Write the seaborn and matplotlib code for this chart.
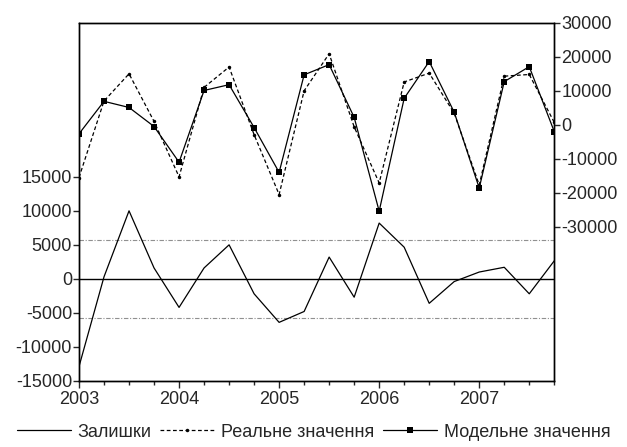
import numpy as np
import pandas as pd
import matplotlib
matplotlib.use('Agg')
import matplotlib.pyplot as plt
import seaborn as sns

# quarterly periods 2003Q1 - 2007Q4
periods = ['2003Q1', '2003Q2', '2003Q3', '2003Q4',
           '2004Q1', '2004Q2', '2004Q3', '2004Q4',
           '2005Q1', '2005Q2', '2005Q3', '2005Q4',
           '2006Q1', '2006Q2', '2006Q3', '2006Q4',
           '2007Q1', '2007Q2', '2007Q3', '2007Q4']

residual = [-12900, 300, 10000, 1600,
            -4200, 1600, 5000, -2200,
            -6400, -4800, 3200, -2700,
            8200, 4650, -3600, -400,
            1000, 1700, -2200, 2650]

actual = [-15500, 7000, 15000, 1000,
          -15300, 11000, 17000, -2900,
          -20500, 10000, 20900, -600,
          -17100, 12600, 15200, 3400,
          -17700, 14300, 14800, 700]

fitted = [-2650, 6900, 5100, -500,
          -11000, 10100, 11800, -800,
          -14000, 14700, 17700, 2200,
          -25400, 7800, 18600, 3700,
          -18600, 12700, 17100, -2000]

resid_band = 5750
left_ticks = [-15000, -10000, -5000, 0, 5000, 10000, 15000]
right_ticks = [-30000, -20000, -10000, 0, 10000, 20000, 30000]
year_ticks = [2003, 2004, 2005, 2006, 2007]

labels = ['Залишки', 'Реальне значення', 'Модельне значення']

# build data frame with numeric time axis
df = pd.DataFrame({'period': periods, 'residual': residual,
                   'actual': actual, 'fitted': fitted})
df['t'] = df['period'].str[:4].astype(int) + (df['period'].str[-1].astype(int) - 1) / 4

sns.set_style('white')
plt.rcParams['font.family'] = ['Liberation Sans', 'DejaVu Sans']
plt.rcParams['font.size'] = 13
plt.rcParams['axes.unicode_minus'] = False

fig = plt.figure(figsize=(6.27, 4.47), dpi=100)
ax = fig.add_axes([0.126, 0.148, 0.758, 0.801])
ax2 = ax.twinx()

# residuals on left axis
ax.axhline(0, color='black', lw=1.0)
ax.axhline(resid_band, color='#909090', lw=0.8, ls=(0, (4, 1.5, 1, 1.5)))
ax.axhline(-resid_band, color='#909090', lw=0.8, ls=(0, (4, 1.5, 1, 1.5)))
sns.lineplot(data=df, x='t', y='residual', ax=ax, color='black', lw=0.9, label=labels[0])

# actual and fitted on right axis
sns.lineplot(data=df, x='t', y='actual', ax=ax2, color='black', lw=0.9,
             linestyle=(0, (3, 2)), marker='o', markersize=2.5, markeredgewidth=0,
             label=labels[1])
sns.lineplot(data=df, x='t', y='fitted', ax=ax2, color='black', lw=0.9,
             marker='s', markersize=4, markeredgewidth=0, label=labels[2])

ax.set_xlim(2003, 2007.75)
ax.set_ylim(-15000, 37650)
ax2.set_ylim(-75300, 30000)

ax.set_yticks(left_ticks)
ax2.set_yticks(right_ticks)
ax.set_xticks(year_ticks)
ax.set_xticks(df['t'], minor=True)
ax.set_xticklabels([str(y) for y in year_ticks])

for a in (ax, ax2):
    a.set_xlabel('')
    a.set_ylabel('')
    for s in a.spines.values():
        s.set_color('black')
        s.set_linewidth(1.0)

ax.tick_params(axis='y', direction='out', length=4, width=1, left=True, pad=1)
ax.tick_params(axis='x', which='major', direction='out', length=5, width=1, bottom=True, pad=2)
ax.tick_params(axis='x', which='minor', direction='out', length=3, width=1, bottom=True)
ax2.tick_params(axis='y', direction='out', length=4, width=1, right=True, pad=1)

# common legend under the plot
handles, lbls = [], []
for a in (ax, ax2):
    h, l = a.get_legend_handles_labels()
    handles += h
    lbls += l
    if a.get_legend() is not None:
        a.get_legend().remove()
fig.legend(handles, lbls, loc='lower center', ncol=3, frameon=False,
           bbox_to_anchor=(0.5, -0.022), handlelength=3.0, handletextpad=0.35,
           columnspacing=0.5, numpoints=1)

plt.savefig('out.png', dpi=100)
